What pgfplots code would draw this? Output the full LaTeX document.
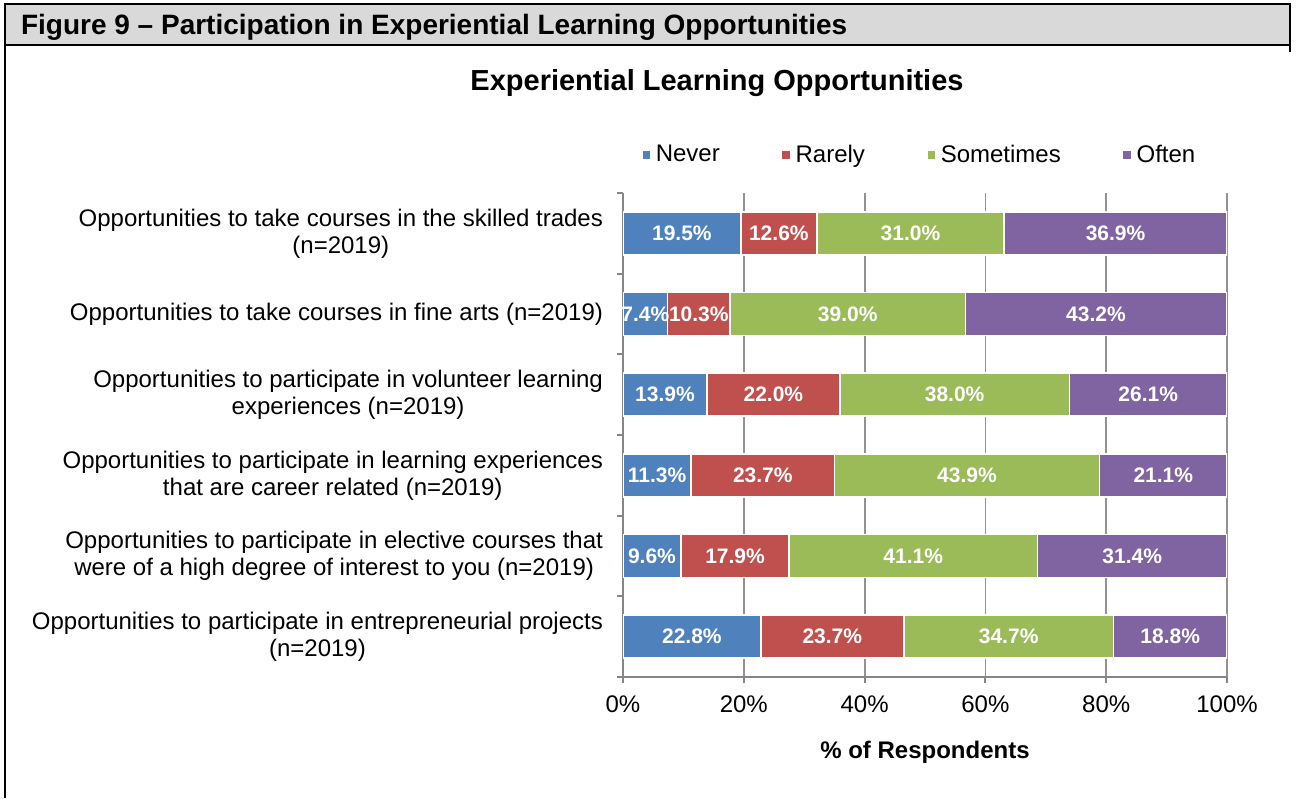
\documentclass[border=0pt]{standalone}
\usepackage{pgfplots}
\pgfplotsset{compat=1.18}
\usepackage{pgfplotstable}
\usepackage{fontspec}
\setmainfont{Liberation Sans}

\definecolor{nevercol}{HTML}{4F81BD}
\definecolor{rarelycol}{HTML}{C0504D}
\definecolor{somecol}{HTML}{9BBB59}
\definecolor{oftencol}{HTML}{8064A2}
\definecolor{headgray}{HTML}{D9D9D9}
\definecolor{axisgray}{HTML}{868686}

\pgfplotstableread{
cat never rarely sometimes often
0 19.5 12.6 31.0 36.9
1 7.4 10.3 39.0 43.2
2 13.9 22.0 38.0 26.1
3 11.3 23.7 43.9 21.1
4 9.6 17.9 41.1 31.4
5 22.8 23.7 34.7 18.8
}\datatable

\begin{document}
\begin{tikzpicture}
% header band and frame
\fill[headgray] (2.5pt,376.5pt) rectangle (645pt,397pt);
\draw[line width=1pt] (2.5pt,0pt) -- (2.5pt,397pt) -- (645pt,397pt) -- (645pt,373pt);
\draw[line width=1pt] (2.5pt,376.5pt) -- (645pt,376.5pt);
\node[anchor=west, font=\bfseries\fontsize{14}{16}\selectfont] at (7pt,385.5pt)
  {Figure 9 – Participation in Experiential Learning Opportunities};
\node[font=\bfseries\fontsize{14.5}{17}\selectfont] at (358.5pt,357.5pt)
  {Experiential Learning Opportunities};

\begin{axis}[
    scale only axis,
    width=302pt, height=242pt,
    at={(311.5pt,60.5pt)}, anchor=south west,
    xbar stacked,
    bar width=21.5pt,
    xmin=0, xmax=100,
    ymin=-0.5, ymax=5.5,
    y dir=reverse,
    axis x line=bottom, axis y line=left,
    axis line style={-, draw=axisgray, line width=1pt},
    tick align=outside,
    major tick length=3pt,
    tick style={draw=axisgray, line width=1pt},
    xtick={0,20,...,100},
    xticklabel={\pgfmathprintnumber{\tick}\%},
    xticklabel style={yshift=-3pt},
    xmajorgrids,
    grid style={draw=axisgray!90, line width=0.9pt},
    ytick={-0.5,0.5,...,5.5},
    yticklabels={},
    extra y ticks={0,1,2,3,4,5},
    extra y tick labels={
      {Opportunities to take courses in the skilled trades\\(n=2019)},
      {Opportunities to take courses in fine arts (n=2019)},
      {Opportunities to participate in volunteer learning\\experiences (n=2019)},
      {Opportunities to participate in learning experiences\\that are career related (n=2019)},
      {Opportunities to participate in elective courses that\\were of a high degree of interest to you (n=2019)},
      {Opportunities to participate in entrepreneurial projects\\(n=2019)}},
    extra y tick style={major tick length=0pt, yticklabel style={align=center, xshift=-6.5pt}},
    ticklabel style={font=\fontsize{12}{13.5}\selectfont},
    /pgf/number format/assume math mode=true,
    visualization depends on={rawx \as \rawx},
    nodes near coords={\pgfmathprintnumber[fixed,fixed zerofill,precision=1]{\rawx}\%},
    every node near coord/.append style={font=\bfseries\fontsize{10.5}{12}\selectfont,
      text=white, anchor=center},
    legend columns=4,
    legend style={at={(0.492,1.0785)}, anchor=center, draw=none, fill=none,
      font=\fontsize{12}{13.5}\selectfont,
      /tikz/every even column/.append style={column sep=28.5pt}},
    legend image code/.code={\fill[#1] (0pt,-2.3pt) rectangle (4.6pt,2.3pt);},
]
\addplot[fill=nevercol, draw=white, line width=0.8pt] table[x=never, y=cat] \datatable;
\addplot[fill=rarelycol, draw=white, line width=0.8pt] table[x=rarely, y=cat] \datatable;
\addplot[fill=somecol, draw=white, line width=0.8pt] table[x=sometimes, y=cat] \datatable;
\addplot[fill=oftencol, draw=white, line width=0.8pt] table[x=often, y=cat] \datatable;
\legend{Never, Rarely, Sometimes, Often}
\end{axis}

\node[font=\bfseries\fontsize{12}{14}\selectfont] at (462.5pt,23pt) {\% of Respondents};

\pgfresetboundingbox
\path[use as bounding box] (0pt,0pt) rectangle (648pt,399pt);
\end{tikzpicture}
\end{document}
